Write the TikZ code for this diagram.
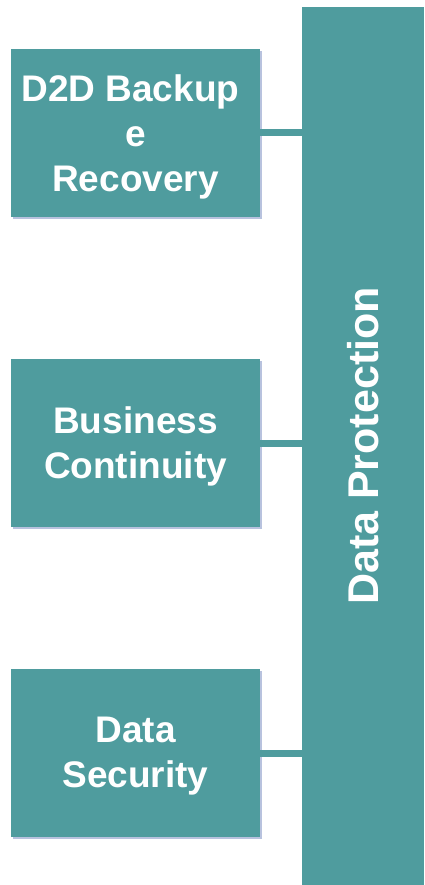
\documentclass[tikz,border=0pt]{standalone}
\usepackage{fontspec}
\setmainfont{Liberation Sans}
\usetikzlibrary{shadows, positioning}
\definecolor{dpteal}{HTML}{4F9C9E}
\definecolor{shadowblue}{HTML}{B8C2DE}

\begin{document}
\begin{tikzpicture}[
    x=1pt, y=-1pt,
    topic/.style={fill=dpteal, minimum width=249pt, minimum height=168pt,
                  inner sep=0pt,
                  drop shadow={shadow xshift=2pt, shadow yshift=-2pt,
                               fill=shadowblue, opacity=1}},
    topictext/.style={inner sep=0pt, align=center, text=white,
                      font=\fontsize{37}{45}\selectfont\bfseries},
    bar/.style={fill=dpteal, minimum width=122pt, minimum height=878pt,
                inner sep=0pt},
    barlabel/.style={rotate=90, inner sep=0pt, text=white,
                     font=\fontsize{43}{50}\selectfont\bfseries},
    link/.style={draw=dpteal, line width=7pt}
]
    \useasboundingbox (0,0) rectangle (424,885);

    \node[bar] (prot) at (363,446) {};
    \node[barlabel] (protlbl) at (prot.center) {Data Protection};

    \node[topic] (backup)   at (135.5,133) {};
    \node[topic] (business) at (135.5,443) {};
    \node[topic] (security) at (135.5,753) {};

    \node[topictext] (backuptxt)   at ([yshift=-4pt]backup.center)
        {D2D Backup\hspace*{0.28em}\\e\hspace*{0.28em}\\Recovery};
    \node[topictext] (businesstxt) at ([yshift=-3pt]business.center)
        {Business\\Continuity};
    \node[topictext] (securitytxt) at ([yshift=-3pt]security.center)
        {Data\\Security};

    \draw[link] (backup.east)   -- (backup.east -| prot.west);
    \draw[link] (business.east) -- (business.east -| prot.west);
    \draw[link] (security.east) -- (security.east -| prot.west);
\end{tikzpicture}
\end{document}
